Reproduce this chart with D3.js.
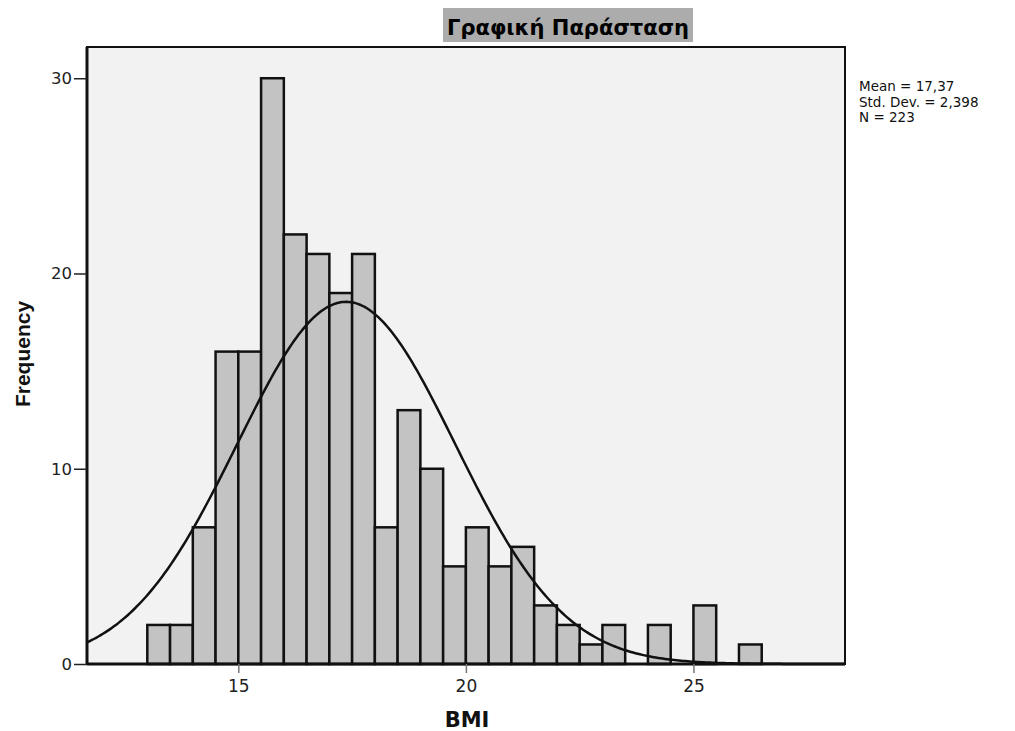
<!DOCTYPE html>
<html>
<head>
<meta charset="utf-8">
<style>
body { margin: 0; background: #fff; }
.axis .domain { display: none; }
</style>
</head>
<body>
<svg width="1015" height="731"></svg>
<script src="https://d3js.org/d3.v7.min.js"></script>
<script>
// histogram bins (lower edge, width 0.5) and counts
var binStarts = [13.0, 13.5, 14.0, 14.5, 15.0, 15.5, 16.0, 16.5, 17.0, 17.5, 18.0, 18.5, 19.0, 19.5,
                 20.0, 20.5, 21.0, 21.5, 22.0, 22.5, 23.0, 23.5, 24.0, 24.5, 25.0, 25.5, 26.0];
var counts    = [2, 2, 7, 16, 16, 30, 22, 21, 19, 21, 7, 13, 10, 5,
                 7, 5, 6, 3, 2, 1, 2, 0, 2, 0, 3, 0, 1];
var binWidth = 0.5;
var xTicks = [15, 20, 25];
var yTicks = [0, 10, 20, 30];
var statLabels = ["Mean = 17,37", "Std. Dev. = 2,398", "N = 223"];
var stats = {mean: 17.37, sd: 2.398, n: 223};

var svg = d3.select("svg"),
    margin = {top: 47, right: 170, bottom: 67, left: 87},
    width = +svg.attr("width") - margin.left - margin.right,
    height = +svg.attr("height") - margin.top - margin.bottom,
    g = svg.append("g").attr("transform", "translate(" + margin.left + "," + margin.top + ")");

var x = d3.scaleLinear().domain([11.675, 28.33]).range([0, width]);
var y = d3.scaleLinear().domain([0, 31.6]).range([height, 0]);

// plot background
g.append("rect")
    .attr("width", width)
    .attr("height", height)
    .attr("fill", "#f2f2f2");

// bars
var data = binStarts.map(function(b, i) { return {x0: b, x1: b + binWidth, n: counts[i]}; });
g.append("g")
  .selectAll("rect")
  .data(data.filter(function(d) { return d.n > 0; }))
  .enter().append("rect")
    .attr("x", function(d) { return x(d.x0); })
    .attr("y", function(d) { return y(d.n); })
    .attr("width", function(d) { return x(d.x1) - x(d.x0); })
    .attr("height", function(d) { return y(0) - y(d.n); })
    .attr("fill", "#c3c3c3")
    .attr("stroke", "#111")
    .attr("stroke-width", 2.5);

// normal curve from the stated mean / sd / n
var pdf = function(v) {
  var z = (v - stats.mean) / stats.sd;
  return stats.n * binWidth * Math.exp(-0.5 * z * z) / (stats.sd * Math.sqrt(2 * Math.PI));
};
var curvePts = d3.range(x.domain()[0], x.domain()[1], 0.05).map(function(v) { return [v, pdf(v)]; });
g.append("path")
    .datum(curvePts)
    .attr("fill", "none")
    .attr("stroke", "#111")
    .attr("stroke-width", 2.5)
    .attr("d", d3.line().x(function(d) { return x(d[0]); }).y(function(d) { return y(d[1]); }));

// frame
g.append("rect")
    .attr("width", width)
    .attr("height", height)
    .attr("fill", "none")
    .attr("stroke", "#111")
    .attr("stroke-width", 2);
g.append("line").attr("x1", 0).attr("x2", 0).attr("y1", 0).attr("y2", height)
    .attr("stroke", "#111").attr("stroke-width", 3);
g.append("line").attr("x1", 0).attr("x2", width).attr("y1", height).attr("y2", height)
    .attr("stroke", "#111").attr("stroke-width", 3);

// axes
var xAxis = g.append("g")
    .attr("class", "axis")
    .attr("transform", "translate(0," + height + ")")
    .call(d3.axisBottom(x).tickValues(xTicks).tickFormat(d3.format("d")).tickSize(9).tickPadding(7));
xAxis.selectAll("line").attr("stroke", "#777").attr("stroke-width", 1.5);
xAxis.selectAll("text").attr("font-family", "DejaVu Sans").attr("font-size", 17).attr("fill", "#222");

var yAxis = g.append("g")
    .attr("class", "axis")
    .call(d3.axisLeft(y).tickValues(yTicks).tickFormat(d3.format("d")).tickSize(13).tickPadding(2));
yAxis.selectAll("line").attr("stroke", "#222").attr("stroke-width", 1.5);
yAxis.selectAll("text").attr("font-family", "DejaVu Sans").attr("font-size", 16.5).attr("fill", "#222");

// axis titles
svg.append("text")
    .attr("x", 467)
    .attr("y", 727)
    .attr("text-anchor", "middle")
    .attr("font-family", "DejaVu Sans")
    .attr("font-weight", "bold")
    .attr("font-size", 21)
    .attr("fill", "#111")
    .text("BMI");

svg.append("text")
    .attr("transform", "translate(30,354) rotate(-90)")
    .attr("text-anchor", "middle")
    .attr("font-family", "Liberation Sans")
    .attr("font-weight", "bold")
    .attr("font-size", 21)
    .attr("fill", "#111")
    .text("Frequency");

// title with grey box
svg.append("rect")
    .attr("x", 443)
    .attr("y", 8)
    .attr("width", 250)
    .attr("height", 34)
    .attr("fill", "#acacac");
svg.append("text")
    .attr("x", 568)
    .attr("y", 35)
    .attr("text-anchor", "middle")
    .attr("font-family", "DejaVu Sans")
    .attr("font-weight", "bold")
    .attr("font-size", 22)
    .attr("textLength", 242)
    .attr("lengthAdjust", "spacingAndGlyphs")
    .attr("fill", "#000")
    .text("Γραφική  Παράσταση");

// statistics legend
svg.append("g")
    .attr("font-family", "DejaVu Sans")
    .attr("font-size", 13.5)
    .attr("fill", "#111")
  .selectAll("text")
  .data(statLabels)
  .enter().append("text")
    .attr("x", 859)
    .attr("y", function(d, i) { return 91 + i * 15.5; })
    .text(function(d) { return d; });
</script>
</body>
</html>
